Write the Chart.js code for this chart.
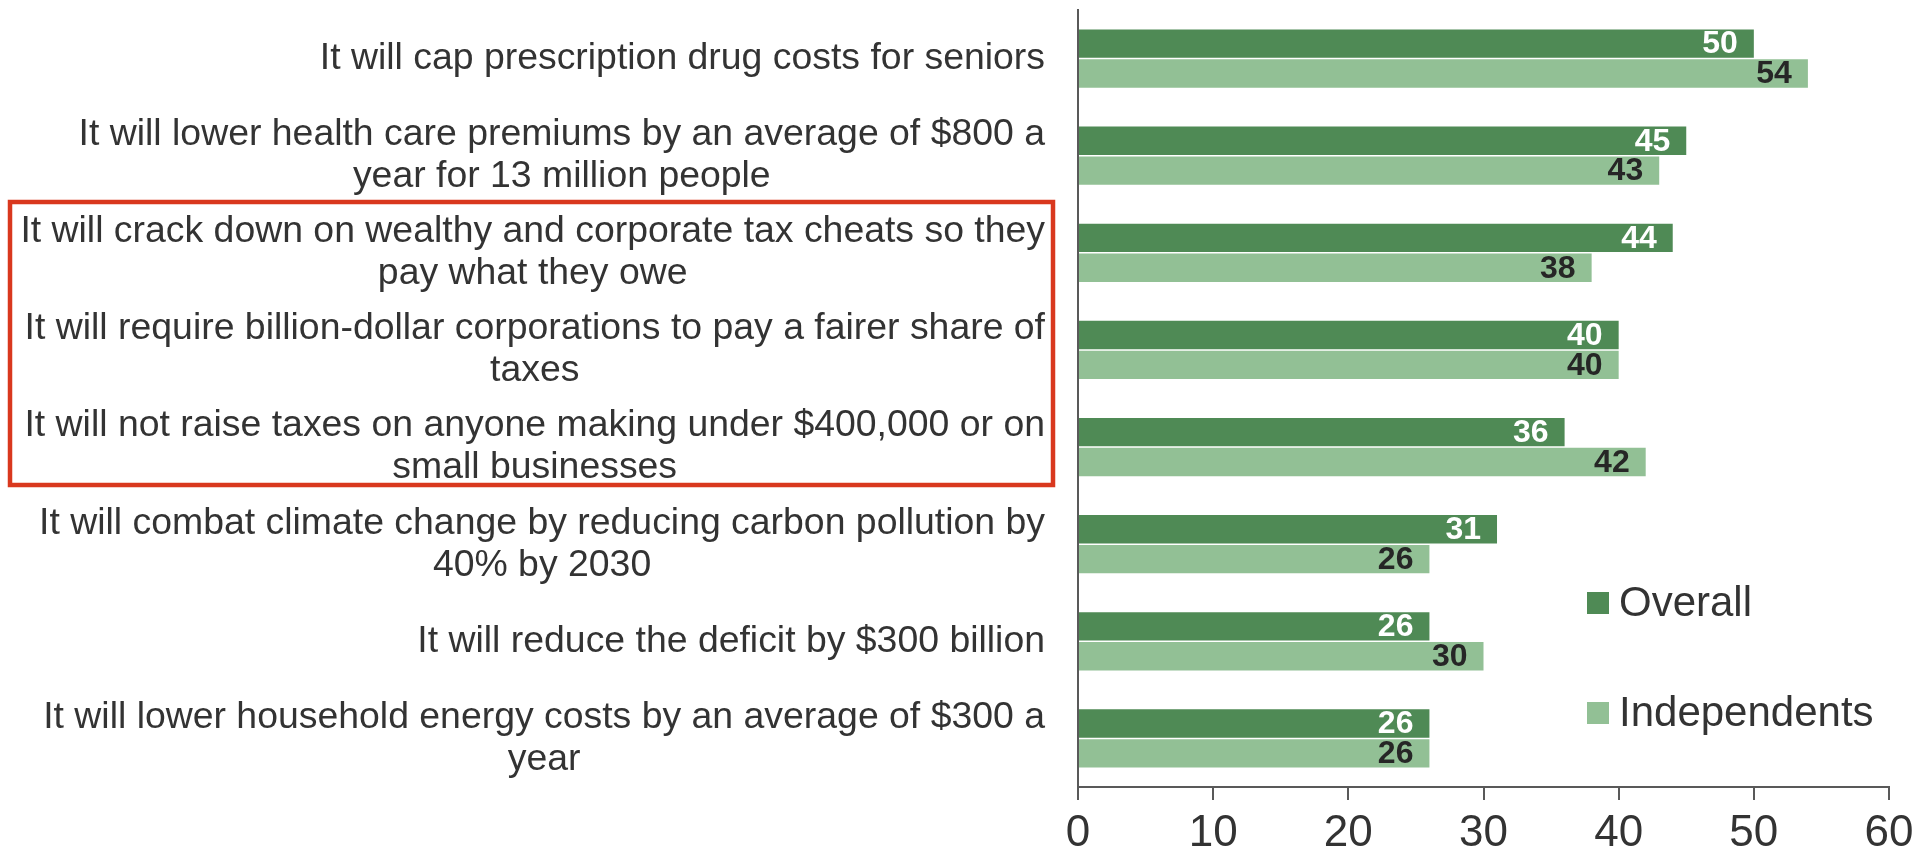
<!DOCTYPE html>
<html>
<head>
<meta charset="utf-8">
<script src="https://cdn.jsdelivr.net/npm/chart.js@4/dist/chart.umd.min.js"></script>
<style>
  body { margin: 0; background: #fff; }
  canvas { display: block; }
</style>
</head>
<body>
<canvas id="chart" width="1926" height="855"></canvas>
<script>
// Statements (each entry is the list of wrapped lines)
const statements = [
    ['It will cap prescription drug costs for seniors'],
    ['It will lower health care premiums by an average of $800 a', 'year for 13 million people'],
    ['It will crack down on wealthy and corporate tax cheats so they', 'pay what they owe'],
    ['It will require billion-dollar corporations to pay a fairer share of', 'taxes'],
    ['It will not raise taxes on anyone making under $400,000 or on', 'small businesses'],
    ['It will combat climate change by reducing carbon pollution by', '40% by 2030'],
    ['It will reduce the deficit by $300 billion'],
    ['It will lower household energy costs by an average of $300 a', 'year']
];
const overallValues = [50, 45, 44, 40, 36, 31, 26, 26];
const independentValues = [54, 43, 38, 40, 42, 26, 30, 26];
const xTicks = [0, 10, 20, 30, 40, 50, 60];

const FONT = '"Liberation Sans", Arial, sans-serif';
const DARK = '#4f8a55';
const LIGHT = '#92c095';
const TEXT = '#333333';
const AXIS = '#595959';

// Category labels: right-aligned block, lines centred within it
const categoryLabels = {
    id: 'categoryLabels',
    afterDraw(chart) {
        const ctx = chart.ctx;
        const y = chart.scales.y;
        const right = 1045;
        const lineH = 42;
        ctx.save();
        ctx.font = '37.4px ' + FONT;
        ctx.fillStyle = TEXT;
        ctx.textAlign = 'center';
        ctx.textBaseline = 'middle';
        statements.forEach((lines, i) => {
            const blockW = Math.max(...lines.map(l => ctx.measureText(l).width));
            const cx = right - blockW / 2;
            const cy = y.getPixelForValue(i);
            const startY = cy - (lines.length - 1) * lineH / 2;
            lines.forEach((line, j) => ctx.fillText(line, cx, startY + j * lineH));
        });
        ctx.restore();
    }
};

// Value labels inside the end of each bar
const valueLabels = {
    id: 'valueLabels',
    afterDatasetsDraw(chart) {
        const ctx = chart.ctx;
        ctx.save();
        ctx.font = 'bold 32px ' + FONT;
        ctx.textAlign = 'right';
        ctx.textBaseline = 'middle';
        chart.data.datasets.forEach((ds, di) => {
            ctx.fillStyle = di === 0 ? '#ffffff' : '#262626';
            chart.getDatasetMeta(di).data.forEach((bar, i) => {
                ctx.fillText(ds.data[i], bar.x - 16, bar.y + 1);
            });
        });
        ctx.restore();
    }
};

// Legend in lower right of the plot + red highlight box
const extras = {
    id: 'extras',
    afterDraw(chart) {
        const ctx = chart.ctx;
        ctx.save();
        const items = [
            { label: 'Overall', color: DARK, base: 616 },
            { label: 'Independents', color: LIGHT, base: 726 }
        ];
        ctx.font = '42px ' + FONT;
        ctx.textBaseline = 'alphabetic';
        ctx.textAlign = 'left';
        items.forEach(it => {
            ctx.fillStyle = it.color;
            ctx.fillRect(1587, it.base - 24, 22, 22);
            ctx.fillStyle = TEXT;
            ctx.fillText(it.label, 1619, it.base);
        });

        ctx.strokeStyle = '#d9381e';
        ctx.lineWidth = 4.5;
        ctx.strokeRect(10, 202, 1043, 283);
        ctx.restore();
    }
};

new Chart(document.getElementById('chart'), {
    type: 'bar',
    data: {
        labels: statements.map(s => s.join(' ')),
        datasets: [
            {
                label: 'Overall',
                data: overallValues,
                backgroundColor: DARK,
                categoryPercentage: 0.616,
                barPercentage: 0.95
            },
            {
                label: 'Independents',
                data: independentValues,
                backgroundColor: LIGHT,
                categoryPercentage: 0.616,
                barPercentage: 0.95
            }
        ]
    },
    options: {
        indexAxis: 'y',
        responsive: false,
        animation: false,
        layout: { padding: { top: 10, right: 37, bottom: 0, left: 0 } },
        plugins: {
            legend: { display: false },
            tooltip: { enabled: false }
        },
        scales: {
            x: {
                min: 0,
                max: 60,
                afterBuildTicks: (scale) => { scale.ticks = xTicks.map(v => ({ value: v })); },
                afterFit: (scale) => { scale.height = 68; },
                grid: {
                    drawOnChartArea: false,
                    drawTicks: true,
                    tickLength: 13,
                    color: AXIS,
                    lineWidth: 2
                },
                border: { display: true, color: AXIS, width: 2 },
                ticks: {
                    font: { family: FONT, size: 44 },
                    color: TEXT,
                    padding: 7,
                    maxRotation: 0
                }
            },
            y: {
                afterFit: (scale) => { scale.width = 1078; },
                grid: { display: false },
                border: { display: true, color: AXIS, width: 2 },
                ticks: { display: false }
            }
        }
    },
    plugins: [categoryLabels, valueLabels, extras]
});
</script>
</body>
</html>
